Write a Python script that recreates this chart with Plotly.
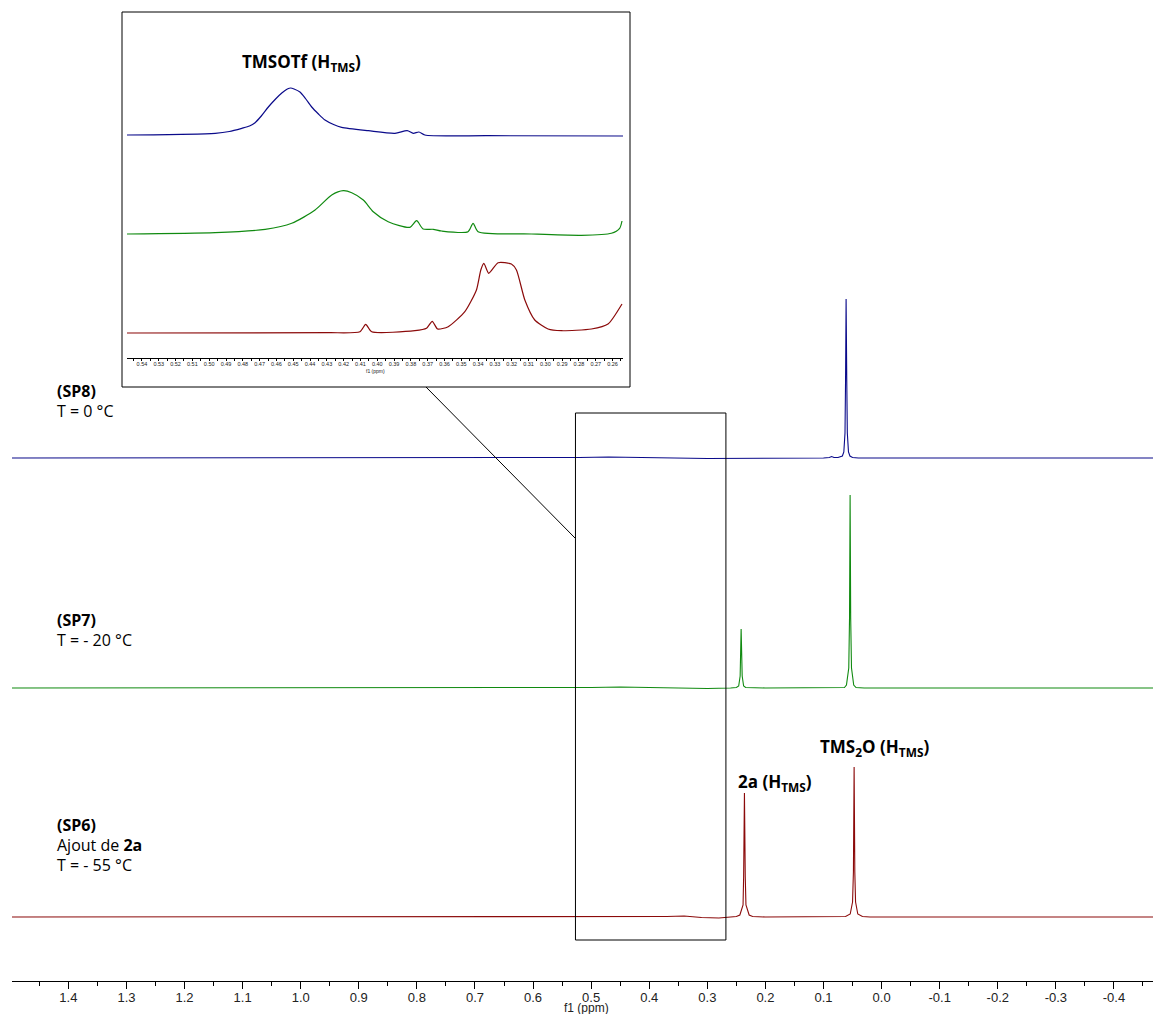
import plotly.graph_objects as go

# main spectra, chemical shift (ppm) and intensity (arbitrary units, baseline = 0)
sp8_ppm = [1.497, 1.0, 0.60, 0.52, 0.47, 0.42, 0.36, 0.30, 0.10, 0.090, 0.086, 0.082, 0.075,
           0.0675, 0.065, 0.063, 0.062, 0.0611, 0.060, 0.059, 0.057, 0.0545, 0.05, 0.04, -0.481]
sp8_int = [0, 0, 0, 0.5, 1, 0.5, 0, -0.5, 0, 0.5, 1.5, 0.5, 0.5,
           2, 6, 25, 80, 159, 80, 25, 6, 2, 0.5, 0, 0]

sp7_ppm = [1.497, 1.0, 0.60, 0.50, 0.45, 0.40, 0.35, 0.30, 0.26, 0.250, 0.246, 0.2435,
           0.2418, 0.2400, 0.2375, 0.234, 0.20, 0.10, 0.064, 0.0605, 0.0565, 0.0552, 0.0542,
           0.0532, 0.0518, 0.0480, 0.044, 0.03, -0.481]
sp7_int = [0, 0, 0, 0.5, 1, 0.5, 0, -0.5, 0, 0.5, 2, 12,
           59, 12, 2, 0.5, 0, 0, 0.5, 3, 20, 70, 193,
           70, 20, 3, 0.5, 0, 0]

sp6_ppm = [1.497, 1.0, 0.60, 0.45, 0.37, 0.34, 0.31, 0.28, 0.255, 0.250, 0.244, 0.2385,
           0.2375, 0.2361, 0.2347, 0.2335, 0.228, 0.222, 0.20, 0.10, 0.062, 0.054, 0.050,
           0.0485, 0.0473, 0.0461, 0.0448, 0.041, 0.033, 0.02, -0.481]
sp6_int = [0, 0, 0, 0, 0.5, 1, -0.5, -1, 0, 0.5, 2, 12,
           40, 124, 40, 12, 2, 0.5, 0, 0, 0.5, 3, 15,
           45, 150, 45, 15, 3, 0.5, 0, 0]

# zoomed region (inset)
ins8_ppm = [0.5489, 0.4964, 0.488, 0.4806, 0.4760, 0.4727, 0.4690, 0.4648, 0.4605, 0.4568,
            0.4535, 0.4515, 0.4495, 0.446, 0.4425, 0.439, 0.435, 0.4311, 0.4260, 0.4212,
            0.4053, 0.3895, 0.3822, 0.3786, 0.3752, 0.3717, 0.334, 0.2538]
ins8_int = [0, 1.7, 3.5, 6.7, 9, 12.3, 19, 28, 36, 42,
            46, 47, 46, 43, 36, 28, 21, 15, 10.5, 7.7,
            4.3, 1.7, 4.3, 1.7, 3, 0, -0.7, -1]

ins7_ppm = [0.5489, 0.4964, 0.4667, 0.4509, 0.437, 0.4271, 0.4202, 0.4152, 0.4083, 0.4024,
            0.3935, 0.3806, 0.3766, 0.3727, 0.3667, 0.3617, 0.346, 0.343, 0.34, 0.3083,
            0.2786, 0.2607, 0.2558, 0.2544]
ins7_int = [0, 1.3, 4.7, 10.7, 24, 39, 43.3, 41.3, 34, 22.3,
            12.3, 6.7, 13.3, 5, 4.7, 3, 2.3, 10.7, 2.3, 0,
            -1.3, 0.7, 5.7, 13]

ins6_ppm = [0.5489, 0.4289, 0.4103, 0.4069, 0.4033, 0.3776, 0.3707, 0.3673, 0.3641, 0.3578,
            0.3479, 0.341, 0.3384, 0.3366, 0.3337, 0.3281, 0.3202, 0.3172, 0.3122, 0.3063,
            0.2984, 0.2904, 0.2726, 0.2627, 0.2544]
ins6_int = [0, 0.3, 1.3, 8.7, 1.3, 2.3, 4.7, 11.7, 4, 6.3,
            21.3, 43, 63, 69.7, 59.7, 70.3, 69, 63, 33, 13,
            4, 2.3, 4, 9, 29]

# axis ticks
main_tick_vals = [1.4, 1.3, 1.2, 1.1, 1.0, 0.9, 0.8, 0.7, 0.6, 0.5, 0.4, 0.3, 0.2, 0.1, 0.0,
                  -0.1, -0.2, -0.3, -0.4]
main_tick_text = ['1.4', '1.3', '1.2', '1.1', '1.0', '0.9', '0.8', '0.7', '0.6', '0.5', '0.4',
                  '0.3', '0.2', '0.1', '0.0', '-0.1', '-0.2', '-0.3', '-0.4']
inset_tick_vals = [0.54, 0.53, 0.52, 0.51, 0.50, 0.49, 0.48, 0.47, 0.46, 0.45, 0.44, 0.43,
                   0.42, 0.41, 0.40, 0.39, 0.38, 0.37, 0.36, 0.35, 0.34, 0.33, 0.32, 0.31,
                   0.30, 0.29, 0.28, 0.27, 0.26, 0.25]
inset_tick_text = ['%.2f' % v for v in inset_tick_vals]

# the page body has an 8 px margin, so the figure is shrunk and shifted by it
OFF = 8
W, H = 1161 - OFF, 1014 - OFF
BLUE = '#0a0a8a'
GREEN = '#108a10'
RED = '#8b0a0a'
TXT_FONT = 'Open Sans, Noto Sans, sans-serif'
AX_FONT = 'Liberation Sans, Arial, sans-serif'


def px(x):
    # screen pixel -> paper fraction
    return (x - OFF) / W


def py(y):
    return 1 - (y - OFF) / H


def band(base, height, pad=5):
    # y-domain for one stacked spectrum, from its baseline position in pixels
    return [py(base + pad), py(base - height)]


def main():
    fig = go.Figure()

    # main stacked spectra
    fig.add_trace(go.Scatter(x=sp6_ppm, y=sp6_int, mode='lines', xaxis='x', yaxis='y',
                             line=dict(color=RED, width=1.1)))
    fig.add_trace(go.Scatter(x=sp7_ppm, y=sp7_int, mode='lines', xaxis='x', yaxis='y2',
                             line=dict(color=GREEN, width=1.1)))
    fig.add_trace(go.Scatter(x=sp8_ppm, y=sp8_int, mode='lines', xaxis='x', yaxis='y3',
                             line=dict(color=BLUE, width=1.1)))

    # inset spectra
    fig.add_trace(go.Scatter(x=ins6_ppm, y=ins6_int, mode='lines', xaxis='x2', yaxis='y4',
                             line=dict(color=RED, width=1.2, shape='spline', smoothing=0.6)))
    fig.add_trace(go.Scatter(x=ins7_ppm, y=ins7_int, mode='lines', xaxis='x2', yaxis='y5',
                             line=dict(color=GREEN, width=1.2, shape='spline', smoothing=0.7)))
    fig.add_trace(go.Scatter(x=ins8_ppm, y=ins8_int, mode='lines', xaxis='x2', yaxis='y6',
                             line=dict(color=BLUE, width=1.2, shape='spline', smoothing=0.7)))

    hidden = dict(visible=False, fixedrange=True)
    fig.update_layout(
        width=W, height=H,
        margin=dict(l=0, r=0, t=0, b=0),
        paper_bgcolor='white', plot_bgcolor='rgba(0,0,0,0)',
        showlegend=False,
        xaxis=dict(domain=[px(12), 1], range=[1.497, -0.481], anchor='free', position=py(981),
                   showgrid=False, zeroline=False, showline=True, linecolor='black', linewidth=1,
                   tickmode='array', tickvals=main_tick_vals, ticktext=main_tick_text,
                   ticks='outside', ticklen=7, tickwidth=1, tickcolor='black',
                   ticklabelstandoff=-3,
                   minor=dict(tickmode='linear', tick0=0.05, dtick=0.1, ticks='outside',
                              ticklen=4, tickcolor='black', showgrid=False),
                   tickfont=dict(family=AX_FONT, size=13, color='#222'),
                   automargin=False),
        xaxis2=dict(domain=[px(127), px(623)], range=[0.5489, 0.2538], anchor='free',
                    position=py(358), showgrid=False, zeroline=False, showline=True,
                    linecolor='black', linewidth=1,
                    tickmode='array', tickvals=inset_tick_vals, ticktext=inset_tick_text,
                    ticks='outside', ticklen=2, tickwidth=1, tickcolor='black',
                    ticklabelstandoff=-2,
                    minor=dict(tickmode='linear', tick0=0.255, dtick=0.01, ticks='outside',
                               ticklen=1.5, tickcolor='black', showgrid=False),
                    tickfont=dict(family=AX_FONT, size=5.5, color='#222'),
                    automargin=False),
        yaxis=dict(domain=band(917, 200), range=[-5, 200], anchor='x', **hidden),
        yaxis2=dict(domain=band(688, 200), range=[-5, 200], anchor='x', **hidden),
        yaxis3=dict(domain=band(458, 200), range=[-5, 200], anchor='x', **hidden),
        yaxis4=dict(domain=band(333, 80), range=[-5, 80], anchor='x2', **hidden),
        yaxis5=dict(domain=band(234, 80), range=[-5, 80], anchor='x2', **hidden),
        yaxis6=dict(domain=band(135, 80), range=[-5, 80], anchor='x2', **hidden),
    )

    # inset frame, zoom box and connector
    fig.add_shape(type='rect', xref='paper', yref='paper', x0=px(122), x1=px(630),
                  y0=py(387), y1=py(12), line=dict(color='black', width=1))
    fig.add_shape(type='rect', xref='x', yref='paper', x0=0.527, x1=0.268,
                  y0=py(940), y1=py(413), line=dict(color='black', width=1))
    fig.add_shape(type='line', xref='paper', yref='paper', x0=px(426), y0=py(387),
                  x1=px(575), y1=py(538), line=dict(color='black', width=1))

    # labels
    def label(text, x, y, size=16, anchor='left', family=TXT_FONT, color='black'):
        fig.add_annotation(text=text, xref='paper', yref='paper', x=px(x), y=py(y),
                           xanchor=anchor, yanchor='middle', showarrow=False,
                           font=dict(family=family, size=size, color=color))

    label('<b>(SP8)</b>', 55, 391)
    label('T = 0 °C', 55, 411)
    label('<b>(SP7)</b>', 55, 620)
    label('T = - 20 °C', 55, 640)
    label('<b>(SP6)</b>', 55, 825)
    label('Ajout de <b>2a</b>', 55, 845)
    label('T = - 55 °C', 55, 865)
    label('<b>TMSOTf (H<sub>TMS</sub>)</b>', 301, 62, size=17, anchor='center')
    label('<b>2a (H<sub>TMS</sub>)</b>', 775, 782, size=17, anchor='center')
    label('<b>TMS<sub>2</sub>O (H<sub>TMS</sub>)</b>', 874, 747, size=17, anchor='center')

    # axis titles
    label('f1 (ppm)', 586, 1008, size=12, anchor='center', family=AX_FONT, color='#222')
    label('f1 (ppm)', 375, 371, size=5, anchor='center', family=AX_FONT, color='#222')

    fig.write_html('out.html')


if __name__ == '__main__':
    main()
